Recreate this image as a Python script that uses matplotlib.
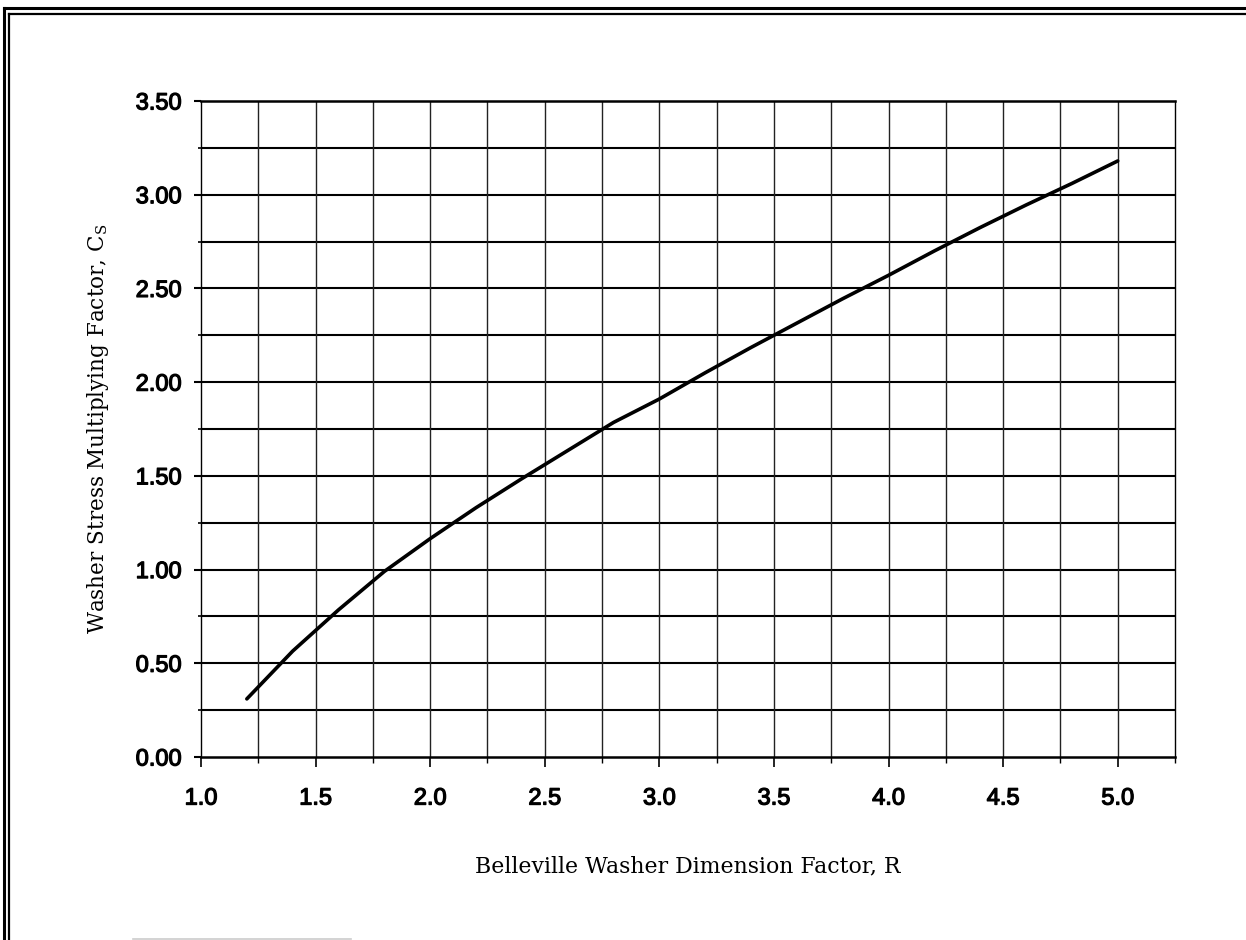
import numpy as np
import matplotlib
matplotlib.use("Agg")
import matplotlib.pyplot as plt
import matplotlib.patheffects as pe
from matplotlib.lines import Line2D
from matplotlib.ticker import MultipleLocator, FormatStrFormatter

# ── Dati ─────────────────────────────────────────────────────────────────────
R_VALUES  = [1.2, 1.4, 1.6, 1.8, 2.0, 2.2, 2.4, 2.6, 2.8, 3.0,
             3.2, 3.4, 3.6, 3.8, 4.0, 4.2, 4.4, 4.6, 4.8, 5.0]
CS_VALUES = [0.31, 0.565, 0.785, 0.99, 1.165, 1.33, 1.485, 1.635, 1.785, 1.91,
             2.05, 2.185, 2.315, 2.445, 2.57, 2.70, 2.825, 2.945, 3.06, 3.18]

X_LABEL = "Belleville Washer Dimension Factor, R"
Y_LABEL = r"Washer Stress Multiplying Factor, C$_\mathregular{S}$"

W_PX, H_PX = 1246, 940
DPI = 100
# ─────────────────────────────────────────────────────────────────────────────

plt.rcParams["mathtext.fontset"] = "dejavuserif"

fig = plt.figure(figsize=(W_PX / DPI, H_PX / DPI), dpi=DPI)
ax = fig.add_axes([201 / W_PX, 1 - 757 / H_PX, 974 / W_PX, 656 / H_PX])

ax.set_xlim(1.0, 5.25)
ax.set_ylim(0.0, 3.5)

# griglia: orizzontali più spesse, verticali più sottili
for yv in np.arange(0.25, 3.5, 0.25):
    ax.axhline(yv, color="black", lw=1.5, zorder=1)
for xv in np.arange(1.25, 5.25, 0.25):
    ax.axvline(xv, color="#222222", lw=1.0, zorder=1)

ax.plot(R_VALUES, CS_VALUES, color="black", lw=2.6, zorder=3,
        solid_capstyle="round")

ax.xaxis.set_major_locator(MultipleLocator(0.5))
ax.xaxis.set_minor_locator(MultipleLocator(0.25))
ax.yaxis.set_major_locator(MultipleLocator(0.5))
ax.yaxis.set_minor_locator(MultipleLocator(0.25))
ax.xaxis.set_major_formatter(FormatStrFormatter("%.1f"))
ax.yaxis.set_major_formatter(FormatStrFormatter("%.2f"))

ax.tick_params(axis="x", which="major", direction="out", length=7, width=1.2, pad=15)
ax.tick_params(axis="x", which="minor", direction="out", length=4, width=1.0)
ax.tick_params(axis="y", which="major", direction="out", length=5, width=1.5, pad=9)
ax.tick_params(axis="y", which="minor", direction="out", length=2, width=1.2)
# numeri tipo Helvetica un po' "ingrassati" dalla scansione
for lbl in ax.get_xticklabels() + ax.get_yticklabels():
    lbl.set_fontfamily("Liberation Sans")
    lbl.set_fontsize(17)
    lbl.set_path_effects([pe.withStroke(linewidth=0.9, foreground="black")])

for side in ["top", "bottom"]:
    ax.spines[side].set_linewidth(1.8)
for side in ["left", "right"]:
    ax.spines[side].set_linewidth(1.0)

ax.set_xlabel(X_LABEL, family="DejaVu Serif", fontsize=15.8, labelpad=33)
ax.set_ylabel(Y_LABEL, family="DejaVu Serif", fontsize=15.5, labelpad=18)

# cornice doppia della pagina scansionata (sinistra e in alto)
def px_line(x0, y0, x1, y1, lw, color="black"):
    fig.add_artist(Line2D([x0 / W_PX, x1 / W_PX], [1 - y0 / H_PX, 1 - y1 / H_PX],
                          transform=fig.transFigure, color=color, lw=lw))

px_line(4, 7.5, 4, H_PX, 2.2)
px_line(4, 7.5, W_PX, 7.5, 2.2)
px_line(8.5, 14, 8.5, H_PX, 1.6)
px_line(8.5, 14, W_PX, 14, 1.6)
px_line(133, 938.5, 351, 938.5, 1.2, color="#cccccc")

fig.savefig("out.png", dpi=DPI)
